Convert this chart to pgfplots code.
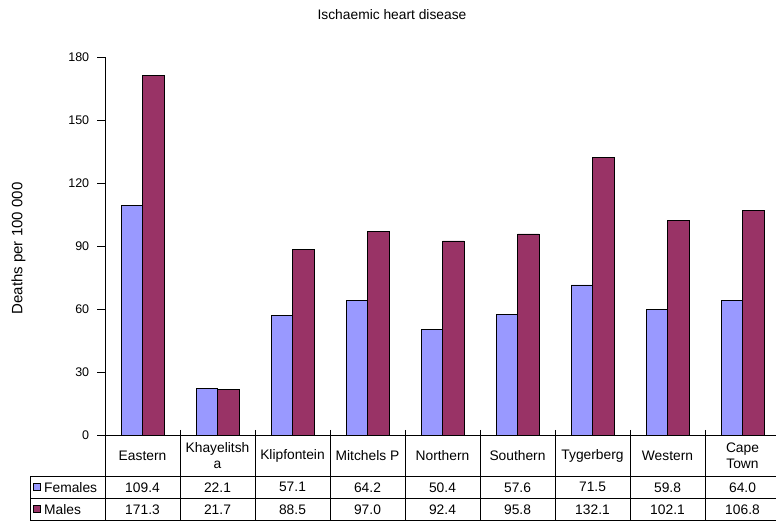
\documentclass[border=0pt]{standalone}
\usepackage{fontspec}
\setmainfont{Liberation Sans}
\usepackage{pgfplots}
\pgfplotsset{compat=1.18}
\definecolor{fem}{HTML}{9999FF}
\definecolor{mal}{HTML}{993366}
\begin{document}
\fontsize{13.8}{15.5}\selectfont
\begin{tikzpicture}[x=1pt,y=1pt]
\useasboundingbox (0,0) rectangle (776,522);
\begin{axis}[
  at={(105pt,87pt)}, anchor=south west,
  scale only axis, width=675pt, height=378pt,
  axis lines*=left,
  axis line style={black, line width=0.7pt},
  xmin=-0.5, xmax=8.5, ymin=0, ymax=180,
  ytick={0,30,...,180}, xtick=\empty,
  tick align=outside, major tick length=8pt,
  ytick style={black, line width=0.7pt},
  /pgf/number format/assume math mode=true,
  yticklabel style={font=\fontsize{12.5}{15}\selectfont, xshift=-3pt},
  ybar, bar width=21.5pt,
  clip=false,
]
\addplot[fill=fem, draw=black, line width=0.6pt, bar shift=-10.75pt] coordinates {
 (0,109.4) (1,22.1) (2,57.1) (3,64.2) (4,50.4) (5,57.6) (6,71.5) (7,59.8) (8,64.0)};
\addplot[fill=mal, draw=black, line width=0.6pt, bar shift=10.75pt] coordinates {
 (0,171.3) (1,21.7) (2,88.5) (3,97.0) (4,92.4) (5,95.8) (6,132.1) (7,102.1) (8,106.8)};
\end{axis}
% title and y label
\node at (392,507) {Ischaemic heart disease};
\node[rotate=90, font=\fontsize{15}{17}\selectfont] at (18.5,273.5) {Deaths per 100 000};
% table
\begin{scope}[line width=0.7pt]
\foreach \k in {0,...,9} {\draw (105+75*\k,92) -- (105+75*\k,2);}
\draw (30,46) -- (780,46);
\draw (30,23.5) -- (780,23.5);
\draw (30,2) -- (780,2);
\draw (30,46) -- (30,2);
\end{scope}
\foreach \n [count=\i from 0] in {Eastern,{Khayelitsh\\a},Klipfontein,Mitchels P,Northern,Southern,Tygerberg,Western,{Cape\\Town}}
  {\node[align=center, inner sep=0pt, font=\fontsize{13.8}{16}\selectfont] at (142.5+75*\i,66.5) {\n};}
\foreach \v [count=\i from 0] in {109.4,22.1,57.1,64.2,50.4,57.6,71.5,59.8,64.0}
  {\node at (142.5+75*\i,34.75) {\v};}
\foreach \v [count=\i from 0] in {171.3,21.7,88.5,97.0,92.4,95.8,132.1,102.1,106.8}
  {\node at (142.5+75*\i,12.75) {\v};}
\draw[fill=fem, line width=0.6pt] (33.5,31.5) rectangle (40.5,38.5);
\draw[fill=mal, line width=0.6pt] (33.5,9.5) rectangle (40.5,16.5);
\node[anchor=west, inner sep=0pt] at (44,34.75) {Females};
\node[anchor=west, inner sep=0pt] at (44,12.75) {Males};
\end{tikzpicture}
\end{document}
